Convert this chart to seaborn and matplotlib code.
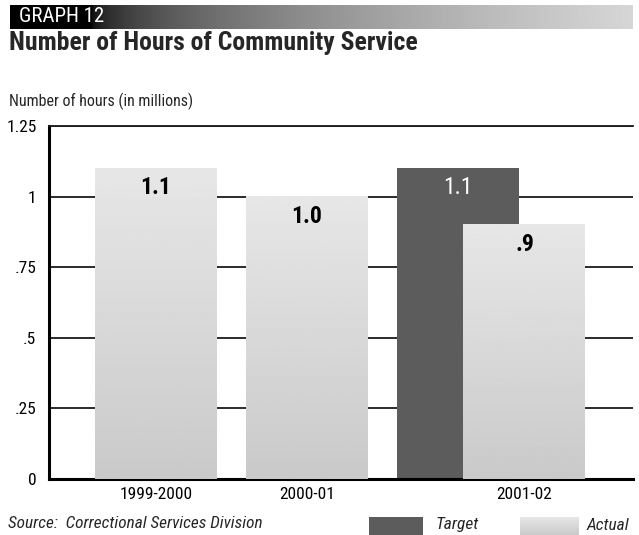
import os
import numpy as np
import matplotlib
matplotlib.use("Agg")
import matplotlib.pyplot as plt
import seaborn as sns
from matplotlib import font_manager

# ---- data -------------------------------------------------------------
years = ["1999-2000", "2000-01", "2001-02"]
actual_hours = [1.1, 1.0, 0.9]          # millions of hours
actual_labels = ["1.1", "1.0", ".9"]
target_years = ["2001-02"]
target_hours = [1.1]
target_labels = ["1.1"]
y_ticks = [0, 0.25, 0.5, 0.75, 1.0, 1.25]
y_tick_labels = ["0", ".25", ".5", ".75", "1", "1.25"]

# ---- layout / style ---------------------------------------------------
W, H = 639, 535
BAR_W = 0.808
PAIR_SHIFT = 0.44          # actual bar sits right of its target bar
TARGET_COLOR = "#5c5c5c"
ACT_TOP, ACT_BOT = 0.905, 0.79   # grey levels of the actual-bar gradient

sns.set_theme(style="white")


def narrow_font():
    """Return (family, stretch) of an installed condensed sans face."""
    entries = font_manager.fontManager.ttflist
    for key in ("robotocondensed", "dejavusanscondensed", "notosans-condensed",
                "liberationsansnarrow", "opensans_condensed",
                "opensans-condensed", "condensed", "narrow"):
        for f in entries:
            base = os.path.basename(f.fname).lower().replace(" ", "")
            if key in base and f.style == "normal":
                return f.name, f.stretch
    return "Roboto", "normal"


FAMILY, STRETCH = narrow_font()
plt.rcParams["font.family"] = [FAMILY, "DejaVu Sans"]
plt.rcParams["font.stretch"] = STRETCH

fig = plt.figure(figsize=(W / 100, H / 100), dpi=100)
fig.patch.set_facecolor("white")


def fx(px):
    return px / W


def fy(py):
    return 1 - py / H


ax = fig.add_axes([fx(49), fy(479), fx(633) - fx(49), fy(126) - fy(479)])

# x positions: one slot per fiscal year; the year with a target gets a pair
slot = {y: i for i, y in enumerate(years)}
paired = set(target_years)
target_x = [slot[y] for y in target_years]
actual_x = [slot[y] + (PAIR_SHIFT if y in paired else 0) for y in years]

sns.barplot(x=target_x, y=target_hours, native_scale=True, width=BAR_W,
            color=TARGET_COLOR, saturation=1, errorbar=None, ax=ax,
            linewidth=0, zorder=2)
n_target = len(ax.patches)
sns.barplot(x=actual_x, y=actual_hours, native_scale=True, width=BAR_W,
            color="#d8d8d8", saturation=1, errorbar=None, ax=ax,
            linewidth=0, zorder=3)

# vertical light-to-darker gradient for the actual bars
grad = np.linspace(ACT_TOP, ACT_BOT, 256).reshape(-1, 1)
for p in ax.patches[n_target:]:
    x0, w, h = p.get_x(), p.get_width(), p.get_height()
    p.set_facecolor("none")
    ax.imshow(grad, cmap="gray", vmin=0, vmax=1, aspect="auto",
              extent=[x0, x0 + w, 0, h], origin="upper", zorder=3,
              interpolation="bilinear")

# value labels inside the top of each bar
for xv, v, lab in zip(target_x, target_hours, target_labels):
    ax.annotate(lab, (xv, v), xytext=(0, -14), textcoords="offset points",
                ha="center", va="center", fontsize=17, color="white", zorder=6)
for xv, v, lab in zip(actual_x, actual_hours, actual_labels):
    ax.annotate(lab, (xv, v), xytext=(0, -14), textcoords="offset points",
                ha="center", va="center", fontsize=17, fontweight="bold",
                color="black", zorder=6)

ax.set_xlim(-0.709, 3.159)
ax.set_ylim(0, 1.25)
ax.set_yticks(y_ticks)
ax.set_yticklabels(y_tick_labels)
ax.set_xticks(actual_x)
ax.set_xticklabels(years)
ax.tick_params(axis="both", length=0, labelsize=12.5, colors="black")
ax.tick_params(axis="y", pad=9)
ax.tick_params(axis="x", pad=6)
ax.set_xlabel("")
ax.set_ylabel("")

ax.set_axisbelow(True)
ax.yaxis.grid(True, color="#1a1a1a", linewidth=1.3)
ax.xaxis.grid(False)
ax.spines["right"].set_visible(False)
ax.spines["top"].set_visible(True)
ax.spines["top"].set_linewidth(1.3)
ax.spines["top"].set_color("#1a1a1a")
for side in ("left", "bottom"):
    ax.spines[side].set_linewidth(2.2)
    ax.spines[side].set_color("black")
ax.set_facecolor("white")

# ---- header band --------------------------------------------------------
band = fig.add_axes([fx(10), fy(29), fx(633) - fx(10), fy(5) - fy(29)])
t = np.linspace(0, 1, 600)
ramp = np.clip((t - 0.13) / 0.87, 0, None) ** 0.45 * 0.84
band.imshow(ramp.reshape(1, -1), cmap="gray", vmin=0, vmax=1,
            aspect="auto", extent=[0, 1, 0, 1])
band.set_axis_off()
fig.text(fx(19), fy(17), "GRAPH 12", color="white", fontsize=15,
         va="center", ha="left")

fig.text(fx(9), fy(43), "Number of Hours of Community Service",
         fontsize=18.5, fontweight="bold", va="center", ha="left")
fig.text(fx(9), fy(101), "Number of hours (in millions)",
         fontsize=11.5, va="center", ha="left")

# ---- footer: source and legend -----------------------------------------
fig.text(fx(8), fy(524), "Source:  Correctional Services Division",
         fontsize=12.4, style="italic", va="center", ha="left")

leg_t = fig.add_axes([fx(369), fy(535), fx(423) - fx(369), fy(517) - fy(535)])
leg_t.set_facecolor(TARGET_COLOR)
leg_t.set_xticks([])
leg_t.set_yticks([])
for s in leg_t.spines.values():
    s.set_visible(False)
fig.text(fx(435), fy(525), "Target", fontsize=12.5, style="italic",
         va="center", ha="left")

leg_a = fig.add_axes([fx(520), fy(535), fx(579) - fx(520), fy(517) - fy(535)])
leg_a.imshow(grad, cmap="gray", vmin=0, vmax=1, aspect="auto",
             extent=[0, 1, 0, 1])
leg_a.set_axis_off()
fig.text(fx(587), fy(525), "Actual", fontsize=12.5, style="italic",
         va="center", ha="left")

fig.savefig("out.png", dpi=100, facecolor="white")
